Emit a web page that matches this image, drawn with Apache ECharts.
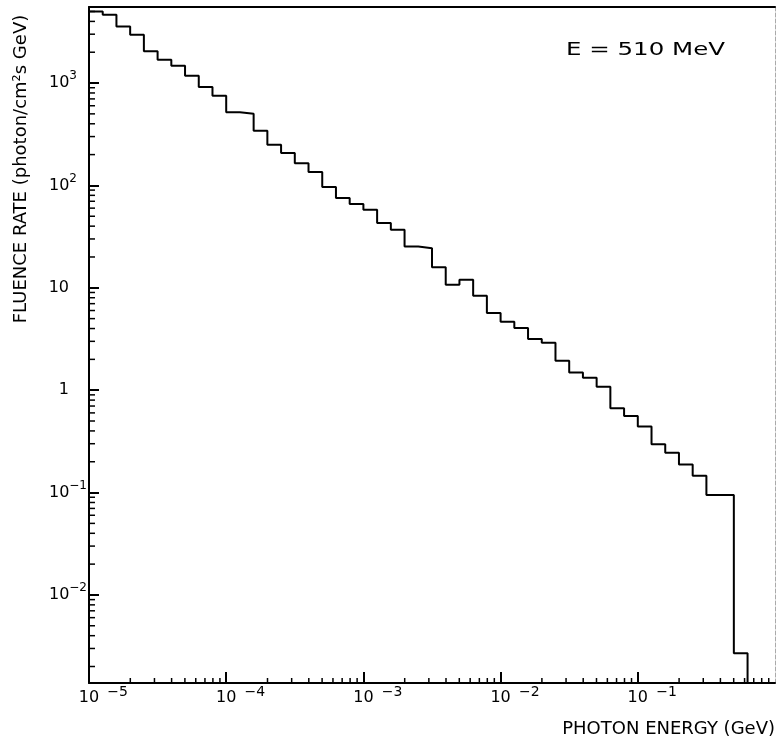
<!DOCTYPE html>
<html>
<head>
<meta charset="utf-8">
<script src="https://cdn.jsdelivr.net/npm/echarts@6/dist/echarts.min.js"></script>
<style>
html,body{margin:0;padding:0;background:#fff;}
#chart{width:776px;height:746px;}
</style>
</head>
<body>
<div id="chart"></div>
<script>
// ---- data ----
// histogram bin edges, log10(photon energy / GeV)
const binEdgesLog10 = [-5.0,-4.9,-4.8,-4.7,-4.6,-4.5,-4.4,-4.3,-4.2,-4.1,
  -4.0,-3.9,-3.8,-3.7,-3.6,-3.5,-3.4,-3.3,-3.2,-3.1,
  -3.0,-2.9,-2.8,-2.7,-2.6,-2.5,-2.4,-2.3,-2.2,-2.1,
  -2.0,-1.9,-1.8,-1.7,-1.6,-1.5,-1.4,-1.3,-1.2,-1.1,
  -1.0,-0.9,-0.8,-0.7,-0.6,-0.5,-0.4,-0.3,-0.2];
// fluence rate per bin (photon/cm^2 s GeV)
const fluenceRate = [5010,4650,3570,2970,2040,1690,1475,1180,914,752,
  519,501,342,250,207,165,135,96.3,75.3,65.8,
  57.9,42.9,36.8,25.3,24.4,15.9,10.7,12.0,8.36,5.66,
  4.66,4.04,3.16,2.90,1.94,1.49,1.32,1.08,0.667,0.561,
  0.441,0.297,0.245,0.188,0.146,0.0948,0.0948,0.00269];
// axis ranges
const xAxisMin = 1e-5, xAxisMax = 1;
const yAxisMin = 1.38e-3, yAxisMax = 5530;
// tick labels
const xTickPowers = [-5,-4,-3,-2,-1];
const xTickBase = ['10','10','10','10','10'];
const xTickSup = ['\u22125','\u22124','\u22123','\u22122','\u22121'];
const yTickPowers = [-2,-1,0,1,2,3];
const yTickBase = ['10','10','1','10','10','10'];
const yTickSup = ['\u22122','\u22121','','','2','3'];
// minor tick decades / multipliers
const minorMultipliers = [2,3,4,5,6,7,8,9];
const xMinorDecades = [-5,-4,-3,-2,-1];
const yMinorDecades = [-3,-2,-1,0,1,2,3];
// texts
const xTitle = 'PHOTON ENERGY (GeV)';
const yTitle = 'FLUENCE RATE (photon/cm\u00b2s GeV)';
const annotation = 'E = 510 MeV';

// ---- build ----
const FONT = 'DejaVu Sans';
const stepData = fluenceRate.map((v, i) => [Math.pow(10, binEdgesLog10[i]), v]);
const lastEdge = Math.pow(10, binEdgesLog10[binEdgesLog10.length - 1]);
stepData.push([lastEdge, fluenceRate[fluenceRate.length - 1]]);
stepData.push([lastEdge, yAxisMin]);

const minorData = [];
xMinorDecades.forEach(d => minorMultipliers.forEach(m => {
  const v = m * Math.pow(10, d);
  if (v > xAxisMin && v < xAxisMax) minorData.push([v, yAxisMin, 0]);
}));
yMinorDecades.forEach(d => minorMultipliers.forEach(m => {
  const v = m * Math.pow(10, d);
  if (v > yAxisMin && v < yAxisMax) minorData.push([xAxisMin, v, 1]);
}));

function powerOf(value) {
  const l = Math.log10(value);
  const r = Math.round(l);
  return Math.abs(l - r) < 1e-6 ? r : null;
}

const chart = echarts.init(document.getElementById('chart'), null, {renderer: 'canvas'});
chart.setOption({
  animation: false,
  backgroundColor: '#fff',
  textStyle: {fontFamily: FONT, color: '#000'},
  grid: {left: 89, top: 7, width: 686, height: 676, containLabel: false, outerBoundsMode: 'none'},
  xAxis: [{
    type: 'log', logBase: 10, min: xAxisMin, max: xAxisMax,
    axisLine: {show: true, lineStyle: {color: '#000', width: 2}},
    axisTick: {show: true, inside: true, length: 11, lineStyle: {color: '#000', width: 2}},
    minorTick: {show: false},
    splitLine: {show: false},
    axisLabel: {
      show: true, margin: 2, color: '#000', fontFamily: FONT,
      showMinLabel: true, showMaxLabel: false,
      formatter: function (value) {
        const p = powerOf(value);
        const i = xTickPowers.indexOf(p);
        if (p === null || i < 0) return '';
        return '{sp| }{b|' + xTickBase[i] + '}{s|' + xTickSup[i] + '}';
      },
      rich: {
        sp: {width: 29, fontSize: 16, lineHeight: 16, fontFamily: FONT},
        b: {fontSize: 16, lineHeight: 26, verticalAlign: 'middle', fontFamily: FONT, color: '#000'},
        s: {fontSize: 14, lineHeight: 14, width: 21, padding: [0, 0, 0, 8], verticalAlign: 'top', fontFamily: FONT, color: '#000'}
      }
    }
  }, {
    type: 'log', logBase: 10, min: xAxisMin, max: xAxisMax, position: 'top',
    axisLine: {show: true, lineStyle: {color: '#000', width: 2}},
    axisTick: {show: false}, axisLabel: {show: false}, splitLine: {show: false}
  }],
  yAxis: [{
    type: 'log', logBase: 10, min: yAxisMin, max: yAxisMax,
    axisLine: {show: true, lineStyle: {color: '#000', width: 2}},
    axisTick: {show: true, inside: true, length: 10, lineStyle: {color: '#000', width: 2}},
    minorTick: {show: false},
    splitLine: {show: false},
    axisLabel: {
      show: true, margin: 2, color: '#000', fontFamily: FONT,
      formatter: function (value) {
        const p = powerOf(value);
        const i = yTickPowers.indexOf(p);
        if (p === null || i < 0) return '';
        const sup = yTickSup[i];
        let tail;
        if (!sup) tail = '{e| }';
        else if (sup.length === 1) tail = '{s1|' + sup + '}';
        else tail = '{s2|' + sup + '}';
        return '{b|' + yTickBase[i] + '}' + tail;
      },
      rich: {
        b: {fontSize: 16, lineHeight: 26, verticalAlign: 'middle', fontFamily: FONT, color: '#000'},
        s1: {fontSize: 12, lineHeight: 12, padding: [0, 10, 0, 0], verticalAlign: 'top', fontFamily: FONT, color: '#000'},
        s2: {fontSize: 12, lineHeight: 12, verticalAlign: 'top', fontFamily: FONT, color: '#000'},
        e: {width: 18, fontSize: 12, lineHeight: 12, fontFamily: FONT}
      }
    }
  }, {
    type: 'log', logBase: 10, min: yAxisMin, max: yAxisMax, position: 'right',
    axisLine: {show: true, lineStyle: {color: '#aaa', width: 1, type: 'dashed'}},
    axisTick: {show: false}, axisLabel: {show: false}, splitLine: {show: false}
  }],
  series: [{
    type: 'line',
    name: 'E = 510 MeV',
    data: stepData,
    step: 'end',
    showSymbol: false,
    symbol: 'none',
    lineStyle: {color: '#000', width: 2},
    silent: true
  }, {
    type: 'custom',
    name: 'minor ticks',
    data: minorData,
    encode: {x: 0, y: 1},
    silent: true,
    clip: false,
    renderItem: function (params, api) {
      const p = api.coord([api.value(0), api.value(1)]);
      const horiz = api.value(2) === 1;
      return {
        type: 'line',
        shape: horiz ? {x1: p[0], y1: p[1], x2: p[0] + 6, y2: p[1]}
                     : {x1: p[0], y1: p[1], x2: p[0], y2: p[1] - 5},
        style: {stroke: '#000', lineWidth: 1.5}
      };
    }
  }],
  graphic: [{
    type: 'text',
    x: 21, y: 169,
    rotation: Math.PI / 2,
    style: {text: yTitle, font: '18px "DejaVu Sans"', fill: '#000', align: 'center', verticalAlign: 'middle'}
  }, {
    type: 'text',
    x: 775, y: 729,
    style: {text: xTitle, font: '18px "DejaVu Sans"', fill: '#000', align: 'right', verticalAlign: 'middle'}
  }, {
    type: 'text',
    x: 566, y: 50,
    scaleX: 1.36,
    style: {text: annotation, font: '18px "DejaVu Sans"', fill: '#000', align: 'left', verticalAlign: 'middle'}
  }]
});
</script>
</body>
</html>
